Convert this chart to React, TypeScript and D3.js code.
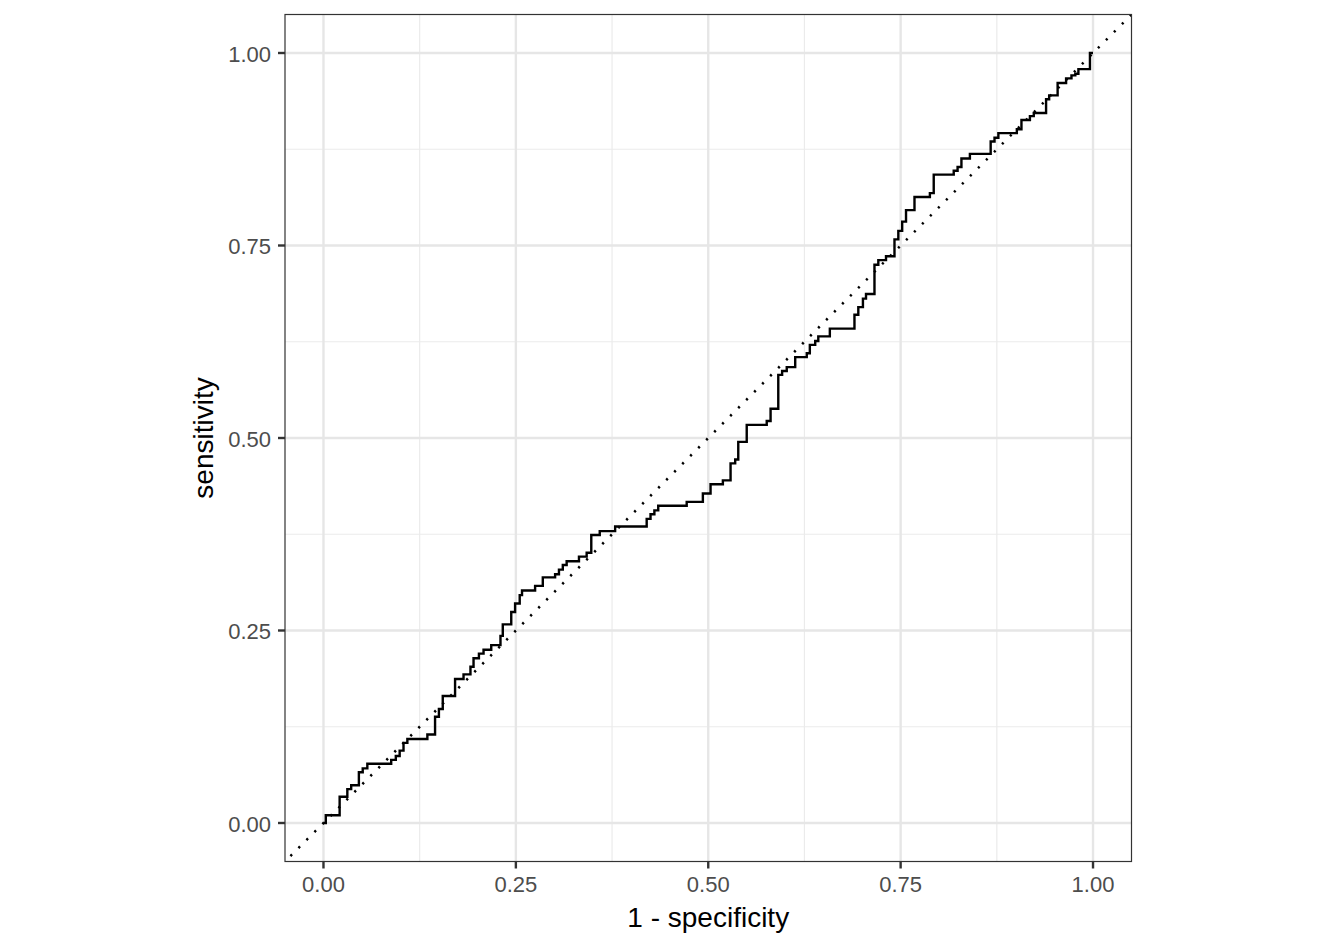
import React from "react";
import * as d3 from "d3";

// ROC curve points (1 - specificity, sensitivity)
const fpr = [
  0, 0.003, 0.021, 0.031, 0.036, 0.046, 0.051, 0.057, 0.088, 0.094,
  0.099, 0.104, 0.109, 0.135, 0.145, 0.150, 0.155, 0.171, 0.182, 0.191,
  0.195, 0.202, 0.208, 0.218, 0.230, 0.233, 0.244, 0.249, 0.255, 0.258,
  0.275, 0.285, 0.301, 0.306, 0.311, 0.316, 0.332, 0.342, 0.348, 0.359,
  0.379, 0.420, 0.425, 0.430, 0.435, 0.472, 0.493, 0.503, 0.519, 0.529,
  0.535, 0.539, 0.550, 0.576, 0.581, 0.591, 0.596, 0.602, 0.613, 0.628,
  0.632, 0.639, 0.643, 0.658, 0.690, 0.695, 0.701, 0.705, 0.716, 0.721,
  0.731, 0.742, 0.747, 0.752, 0.757, 0.768, 0.788, 0.793, 0.819, 0.824,
  0.829, 0.840, 0.867, 0.872, 0.877, 0.901, 0.907, 0.918, 0.923, 0.939,
  0.943, 0.954, 0.965, 0.972, 0.977, 0.981, 0.996, 1.0,
];
const sensitivity = [
  0, 0.010, 0.034, 0.044, 0.049, 0.066, 0.071, 0.077, 0.082, 0.087,
  0.094, 0.104, 0.109, 0.115, 0.138, 0.148, 0.165, 0.187, 0.193, 0.203,
  0.214, 0.220, 0.225, 0.231, 0.243, 0.258, 0.274, 0.285, 0.296, 0.302,
  0.308, 0.319, 0.323, 0.329, 0.335, 0.340, 0.346, 0.351, 0.374, 0.379,
  0.385, 0.395, 0.401, 0.406, 0.412, 0.417, 0.428, 0.440, 0.445, 0.467,
  0.472, 0.495, 0.517, 0.522, 0.538, 0.582, 0.587, 0.592, 0.605, 0.610,
  0.621, 0.626, 0.632, 0.642, 0.660, 0.670, 0.681, 0.687, 0.725, 0.731,
  0.736, 0.758, 0.769, 0.781, 0.796, 0.813, 0.818, 0.842, 0.847, 0.852,
  0.863, 0.869, 0.885, 0.890, 0.896, 0.901, 0.913, 0.918, 0.922, 0.940,
  0.945, 0.961, 0.967, 0.971, 0.973, 0.979, 1.0, 1.0,
];

const majorTicks = [0, 0.25, 0.5, 0.75, 1];
const minorTicks = [0.125, 0.375, 0.625, 0.875];
const domain = [-0.05, 1.05];
const xTitle = "1 - specificity";
const yTitle = "sensitivity";

const W = 1324;
const H = 946;
const panel = { left: 285, right: 1131.5, top: 14.5, bottom: 861.5 };
const FONT = "'Liberation Sans', Arial, Helvetica, sans-serif";

export default function App() {
  const x = d3.scaleLinear().domain(domain).range([panel.left, panel.right]);
  const y = d3.scaleLinear().domain(domain).range([panel.bottom, panel.top]);
  const pts: [number, number][] = fpr.map((f, i) => [f, sensitivity[i]]);
  const rocPath =
    d3
      .line<[number, number]>()
      .x((d) => x(d[0]))
      .y((d) => y(d[1]))
      .curve(d3.curveStepAfter)(pts) || "";
  const fmt = d3.format(".2f");
  const tickLen = 7;

  return (
    <svg
      width={W}
      height={H}
      style={{ position: "absolute", left: 0, top: 0, display: "block", background: "#fff" }}
    >
      <defs>
        <clipPath id="panelClip">
          <rect x={panel.left} y={panel.top} width={panel.right - panel.left} height={panel.bottom - panel.top} />
        </clipPath>
      </defs>
      <rect x={0} y={0} width={W} height={H} fill="#fff" />
      {/* minor grid */}
      {minorTicks.map((t) => (
        <g key={"mn" + t}>
          <line x1={x(t)} x2={x(t)} y1={panel.top} y2={panel.bottom} stroke="#EBEBEB" strokeWidth={1.2} />
          <line x1={panel.left} x2={panel.right} y1={y(t)} y2={y(t)} stroke="#EBEBEB" strokeWidth={1.2} />
        </g>
      ))}
      {/* major grid */}
      {majorTicks.map((t) => (
        <g key={"mj" + t}>
          <line x1={x(t)} x2={x(t)} y1={panel.top} y2={panel.bottom} stroke="#E6E6E6" strokeWidth={2.4} />
          <line x1={panel.left} x2={panel.right} y1={y(t)} y2={y(t)} stroke="#E6E6E6" strokeWidth={2.4} />
        </g>
      ))}
      <g clipPath="url(#panelClip)">
        <path d={rocPath} fill="none" stroke="#000" strokeWidth={2.4} strokeLinejoin="miter" />
        <line
          x1={x(domain[0])}
          y1={y(domain[0])}
          x2={x(domain[1])}
          y2={y(domain[1])}
          stroke="#000"
          strokeWidth={2.5}
          strokeDasharray="2.2 9.11"
          strokeDashoffset={3.6}
        />
      </g>
      <rect
        x={panel.left}
        y={panel.top}
        width={panel.right - panel.left}
        height={panel.bottom - panel.top}
        fill="none"
        stroke="#333333"
        strokeWidth={1.2}
      />
      {/* x axis */}
      {majorTicks.map((t) => (
        <g key={"xt" + t}>
          <line x1={x(t)} x2={x(t)} y1={panel.bottom} y2={panel.bottom + tickLen} stroke="#333333" strokeWidth={2.4} />
          <text x={x(t)} y={892} textAnchor="middle" fontFamily={FONT} fontSize={22} fill="#4D4D4D">
            {fmt(t)}
          </text>
        </g>
      ))}
      {/* y axis */}
      {majorTicks.map((t) => (
        <g key={"yt" + t}>
          <line x1={panel.left - tickLen} x2={panel.left} y1={y(t)} y2={y(t)} stroke="#333333" strokeWidth={2.4} />
          <text x={271} y={y(t) + 8.5} textAnchor="end" fontFamily={FONT} fontSize={22} fill="#4D4D4D">
            {fmt(t)}
          </text>
        </g>
      ))}
      <text x={(panel.left + panel.right) / 2} y={927} textAnchor="middle" fontFamily={FONT} fontSize={28} fill="#000">
        {xTitle}
      </text>
      <text
        transform={`translate(213,${(panel.top + panel.bottom) / 2}) rotate(-90)`}
        textAnchor="middle"
        fontFamily={FONT}
        fontSize={28}
        fill="#000"
      >
        {yTitle}
      </text>
    </svg>
  );
}
